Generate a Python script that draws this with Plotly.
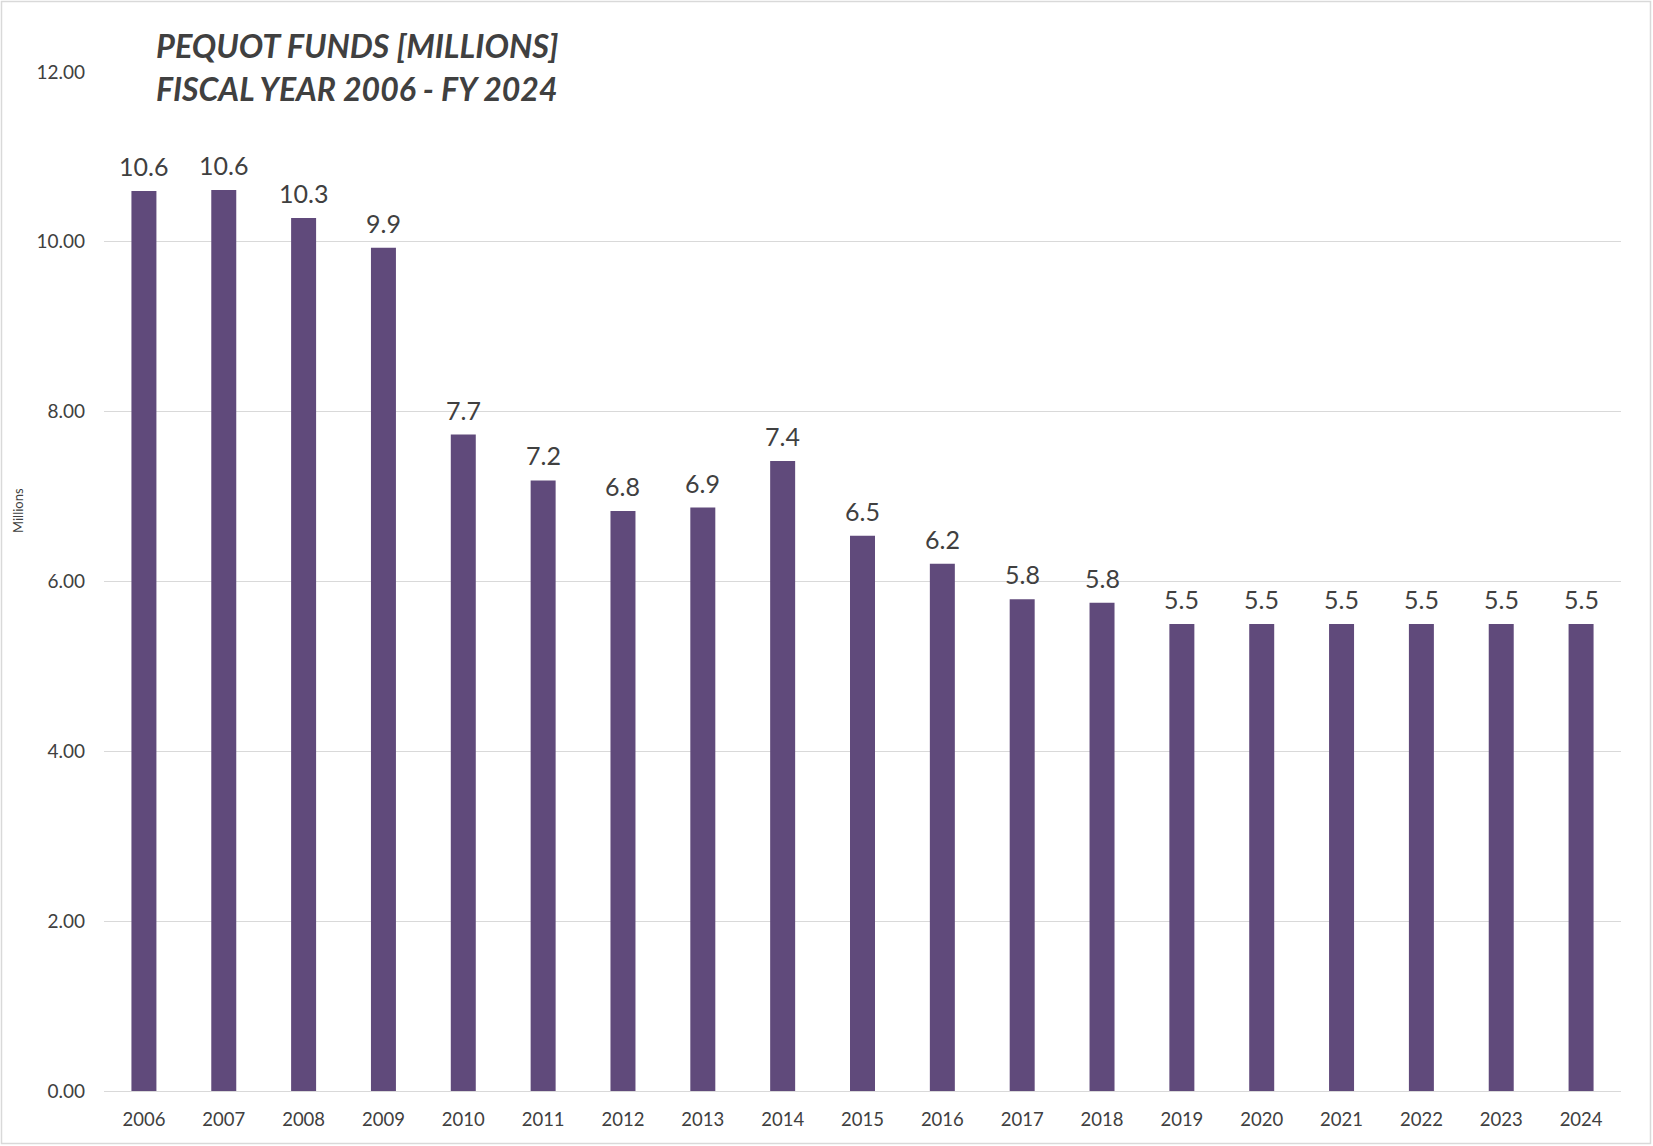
import plotly.graph_objects as go

years = [str(y) for y in range(2006, 2025)]
funds = [10.60, 10.61, 10.28, 9.93, 7.73, 7.19, 6.83, 6.87, 7.42, 6.54, 6.21,
         5.79, 5.75, 5.50, 5.50, 5.50, 5.50, 5.50, 5.50]
labels = [f"{v:.1f}" for v in funds]
y_ticks = [0, 2, 4, 6, 8, 10, 12]
y_tick_labels = [f"{t:.2f}" for t in y_ticks]

W, H = 1653, 1146
L, R, T, B = 104, 32, 72, 55
pw, ph = W - L - R, H - T - B

FONT = "Lato"
BAR = "#604A7B"

fig = go.Figure()
fig.add_trace(go.Bar(
    x=years, y=funds, marker=dict(color=BAR, line=dict(width=0)),
    hoverinfo="x+y",
))

annotations = []
for i, (v, lab) in enumerate(zip(funds, labels)):
    annotations.append(dict(
        x=i, y=v, xref="x", yref="y", text=lab, showarrow=False,
        yanchor="bottom", yshift=8,
        font=dict(family=FONT, size=25, color="#404040"),
    ))

def px_x(p):
    return (p - L) / pw

def px_y(p):
    return (H - B - p) / ph

annotations.append(dict(
    x=px_x(154), y=px_y(46), xref="paper", yref="paper", xanchor="left", yanchor="middle",
    text="<b><i>PEQUOT FUNDS [MILLIONS]</i></b>", showarrow=False,
    font=dict(family=FONT, size=32.5, color="#404040"),
))
annotations.append(dict(
    x=px_x(154), y=px_y(88), xref="paper", yref="paper", xanchor="left", yanchor="middle",
    text="<b><i>FISCAL YEAR 2006 - FY 2024</i></b>", showarrow=False,
    font=dict(family=FONT, size=32, color="#404040"),
))
annotations.append(dict(
    x=px_x(18), y=px_y(511), xref="paper", yref="paper", xanchor="center", yanchor="middle",
    text="Millions", textangle=-90, showarrow=False,
    font=dict(family=FONT, size=13, color="#404040"),
))

fig.update_layout(
    width=W, height=H,
    margin=dict(l=L, r=R, t=T, b=B),
    paper_bgcolor="white", plot_bgcolor="white",
    bargap=0.687,
    showlegend=False,
    annotations=annotations,
    shapes=[dict(
        type="rect", xref="paper", yref="paper",
        x0=px_x(1.5), x1=px_x(W - 2.5), y0=px_y(H - 2.5), y1=px_y(1.5),
        line=dict(color="#D9D9D9", width=1.5), fillcolor="rgba(0,0,0,0)", layer="below",
    )],
)
fig.update_xaxes(
    type="category", range=[-0.5, len(years) - 0.5],
    showgrid=False, showline=False, ticks="", ticklabelstandoff=15,
    tickfont=dict(family=FONT, size=18.5, color="#404040"),
)
fig.update_yaxes(
    range=[0, 12], tickvals=y_ticks, ticktext=y_tick_labels,
    showgrid=True, gridcolor="#D9D9D9", gridwidth=1,
    zeroline=True, zerolinecolor="#D9D9D9", zerolinewidth=1,
    showline=False, ticks="", ticklabelstandoff=18,
    tickfont=dict(family=FONT, size=19, color="#404040"),
)

fig.write_html("out.html", config={"displayModeBar": False},
               post_script="document.body.style.margin='0';")
